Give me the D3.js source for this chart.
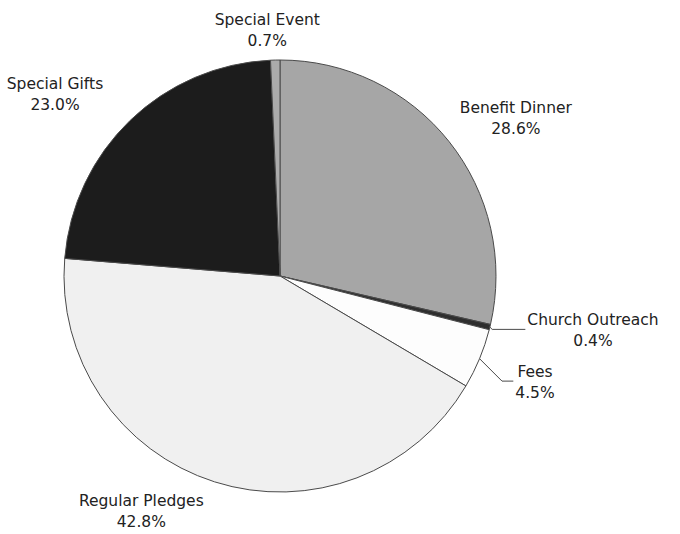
<!DOCTYPE html>
<html>
<head>
<meta charset="utf-8">
<script src="https://cdn.jsdelivr.net/npm/d3@7"></script>
<style>
  body { margin: 0; background: #fff; }
  svg { display: block; }
</style>
</head>
<body>
<div id="chart"></div>
<script>
// data
var categories = ["Benefit Dinner", "Church Outreach", "Fees", "Regular Pledges", "Special Gifts", "Special Event"];
var shares = [28.6, 0.4, 4.5, 42.8, 23.0, 0.7];
var sliceColors = ["#a6a6a6", "#2e2e2e", "#fdfdfd", "#f0f0f0", "#1c1c1c", "#ababab"];

// label layout: turn (deg) from slice mid angle, distance as factor of radius
var labelTurn = [4.6, -4.0, -0.1, 13.0, -7.1, -1.7];
var labelDist = [1.316, 1.47, 1.277, 1.26, 1.34, 1.143];
var leaderLabels = ["Church Outreach", "Fees"];

var width = 680, height = 534;
var cx = 280, cy = 276, radius = 216;

var svg = d3.select("#chart").append("svg")
    .attr("width", width)
    .attr("height", height);

svg.append("rect").attr("width", width).attr("height", height).attr("fill", "#fff");

var g = svg.append("g").attr("transform", "translate(" + cx + "," + cy + ")");

var color = d3.scaleOrdinal().domain(categories).range(sliceColors);

var data = categories.map(function(c, i) { return { name: c, value: shares[i], idx: i }; });

var pie = d3.pie().sort(null).value(function(d) { return d.value; });
var arc = d3.arc().innerRadius(0).outerRadius(radius);
var arcs = pie(data);

g.selectAll("path.slice")
    .data(arcs)
  .enter().append("path")
    .attr("class", "slice")
    .attr("d", arc)
    .attr("fill", function(d) { return color(d.data.name); })
    .attr("stroke", "#4a4a4a")
    .attr("stroke-width", 1)
    .attr("stroke-linejoin", "round");

function polar(a, r) { return [r * Math.sin(a), -r * Math.cos(a)]; }

var labels = g.selectAll("g.label")
    .data(arcs)
  .enter().append("g")
    .attr("class", "label")
    .each(function(d) {
      var mid = (d.startAngle + d.endAngle) / 2;
      var a = mid + labelTurn[d.data.idx] * Math.PI / 180;
      var p = polar(a, labelDist[d.data.idx] * radius);
      d.mid = mid;
      d.lx = p[0];
      d.ly = p[1];
    });

var t = labels.append("text")
    .attr("text-anchor", "middle")
    .style("font-family", "'DejaVu Sans', Verdana, sans-serif")
    .style("font-size", "15.5px")
    .attr("fill", "#222");

t.append("tspan")
    .attr("x", function(d) { return d.lx; })
    .attr("y", function(d) { return d.ly - 4.6; })
    .text(function(d) { return d.data.name; });

t.append("tspan")
    .attr("x", function(d) { return d.lx; })
    .attr("y", function(d) { return d.ly + 16.4; })
    .text(function(d) { return d3.format(".1f")(d.data.value) + "%"; });

// leader lines for the thin slices
labels.filter(function(d) { return leaderLabels.indexOf(d.data.name) >= 0; })
  .each(function(d) {
    var box = this.querySelector("text").getBBox();
    var s = polar(d.mid, radius);
    var endX = box.x - 2;
    var elbow = [s[0] + Math.abs(d.ly - s[1]), d.ly];
    d3.select(this).insert("polyline", "text")
      .attr("points", [s, elbow, [endX, d.ly]].map(function(p) { return p.join(","); }).join(" "))
      .attr("fill", "none")
      .attr("stroke", "#4a4a4a")
      .attr("stroke-width", 1);
  });
</script>
</body>
</html>
